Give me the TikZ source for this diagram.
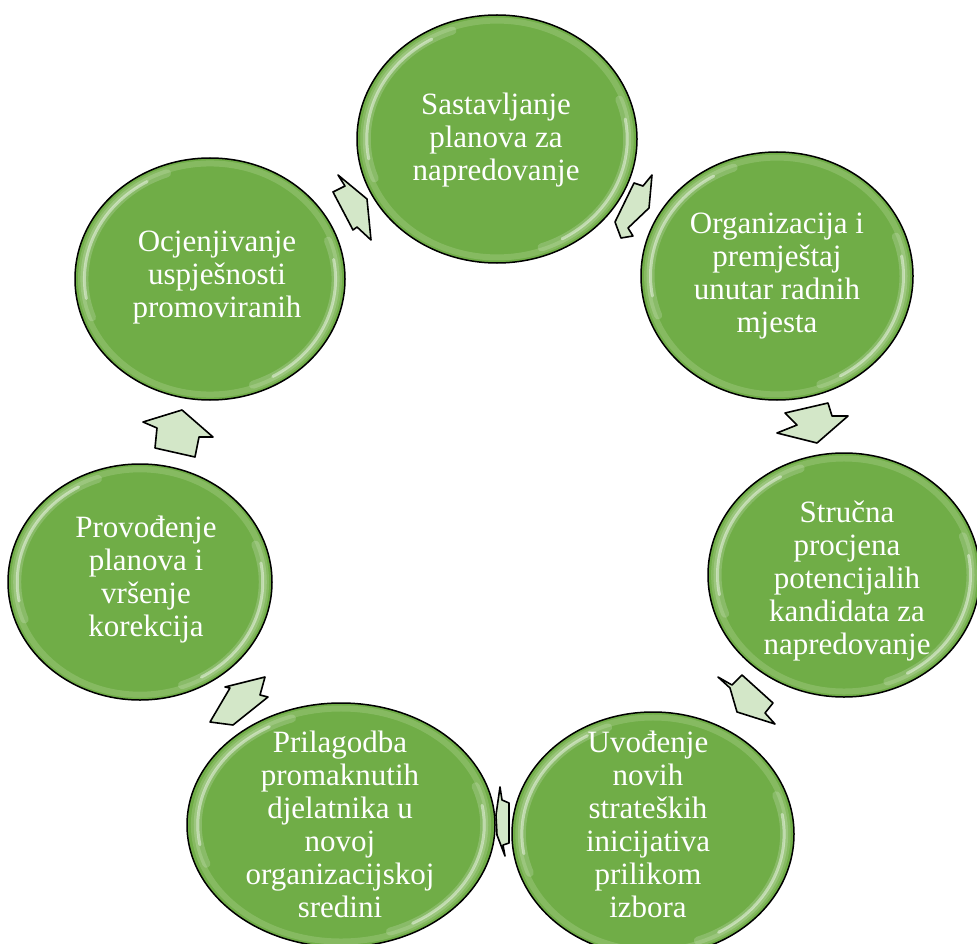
\documentclass[tikz,border=0pt]{standalone}
\usepackage{fontspec}
\setmainfont{Liberation Serif}
\usetikzlibrary{shapes.geometric}
\definecolor{bubble}{HTML}{70AD47}
\definecolor{arrowfill}{HTML}{D3E7C8}
\definecolor{rimlight}{HTML}{B9DB9F}
\tikzset{
  bubbleshape/.style={ellipse, draw=black, line width=1.5pt, fill=bubble, inner sep=0pt},
  bubbletext/.style={align=center, text=white, font=\fontsize{31}{33}\selectfont},
  blockarrow/.style={draw=black, line width=1.6pt, line join=round, fill=arrowfill},
  shine/.style={white, opacity=0.45, line width=3pt, line cap=round},
  glow/.style={white, opacity=0.18, line width=8pt, line cap=round},
  rim/.style={rimlight, opacity=0.3, line width=6pt}
}
\newcommand{\mkbubble}[5]{% name, x, y, rx, ry
  \node[bubbleshape, minimum width=#4*2pt, minimum height=#5*2pt] (#1) at (#2,#3) {};
  \draw[rim] (#1.center) ellipse[x radius=#4*0.955, y radius=#5*0.955];
  \draw[glow] (#1.center) ++(160:#4*0.93 and #5*0.93) arc[start angle=160, end angle=250, x radius=#4*0.93, y radius=#5*0.93];
  \draw[glow] (#1.center) ++(-20:#4*0.93 and #5*0.93) arc[start angle=-20, end angle=70, x radius=#4*0.93, y radius=#5*0.93];
  \draw[shine] (#1.center) ++(170:#4*0.93 and #5*0.93) arc[start angle=170, end angle=240, x radius=#4*0.93, y radius=#5*0.93];
  \draw[shine] (#1.center) ++(-10:#4*0.93 and #5*0.93) arc[start angle=-10, end angle=60, x radius=#4*0.93, y radius=#5*0.93];
}
\begin{document}
\begin{tikzpicture}[x=1pt, y=-1pt]
\useasboundingbox (0,0) rectangle (977,944);
\fill[white] (0,0) rectangle (977,944);

\mkbubble{c1}{497}{139}{140}{124}
\mkbubble{c2}{777}{276}{136}{124}
\mkbubble{c3}{844}{575}{136}{122}
\mkbubble{c4}{653}{834}{141}{122}
\mkbubble{c5}{341}{825}{154}{122}
\mkbubble{c6}{140}{582}{132}{118}
\mkbubble{c7}{210}{279}{135}{121}

\node[bubbletext] (t1) at (496,140) {Sastavljanje\\planova za\\napredovanje};
\node[bubbletext] (t2) at (777,276) {Organizacija i\\premještaj\\unutar radnih\\mjesta};
\node[bubbletext] (t3) at (847,581) {Stručna\\procjena\\potencijalih\\kandidata za\\napredovanje};
\node[bubbletext] (t4) at (648,824) {Uvođenje\\novih\\strateških\\inicijativa\\prilikom\\izbora};
\node[bubbletext] (t5) at (340,824) {Prilagodba\\promaknutih\\djelatnika u\\novoj\\organizacijskoj\\sredini};
\node[bubbletext] (t6) at (146,580) {Provođenje\\planova i\\vršenje\\korekcija};
\node[bubbletext] (t7) at (217,278) {Ocjenjivanje\\uspješnosti\\promoviranih};

% block arrows (clockwise)
\draw[blockarrow] (338,175) -- (345,186) -- (333,192) -- (353,230) -- (357,227) -- (371,240) -- (367,199) -- cycle;
\draw[blockarrow] (634,183) -- (643,186) -- (652,175) -- (649,208) -- (628,228) -- (633,236) -- (621,238) -- (615,222) -- cycle;
\draw[blockarrow] (785,413) -- (828,403) -- (832,416) -- (848,416) -- (817,443) -- (777,433) -- (797,425) -- cycle;
\draw[blockarrow] (718,677) -- (732,685) -- (742,675) -- (773,703) -- (765,713) -- (775,724) -- (737,712) -- (730,688) -- cycle;
\draw[blockarrow] (500,787) -- (502,800) -- (509,803) -- (509,843) -- (503,845) -- (505,856) -- (497,835) -- (496,815) -- cycle;
\draw[blockarrow] (210,722) -- (230,688) -- (225,687) -- (265,677) -- (260,695) -- (268,697) -- (233,725) -- cycle;
\draw[blockarrow] (143,422) -- (182,410) -- (213,437) -- (199,437) -- (195,457) -- (155,448) -- (157,428) -- cycle;
\end{tikzpicture}
\end{document}
